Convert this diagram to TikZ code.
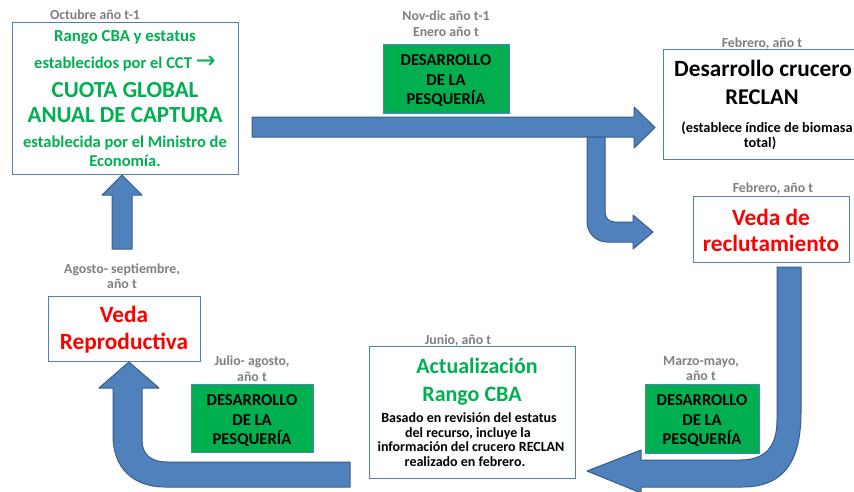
\documentclass[tikz,border=0pt]{standalone}
\usepackage{fontspec}
\setmainfont{Carlito}
\newfontfamily\symfont{DejaVu Sans}
\definecolor{arrowfill}{HTML}{4F81BD}
\definecolor{arrowline}{HTML}{385D8A}
\definecolor{boxline}{HTML}{4F81BD}
\definecolor{grn}{HTML}{00B050}
\definecolor{lblgray}{HTML}{7F7F7F}
\definecolor{vred}{HTML}{FF0000}
\newcommand\fsz[1]{\fontsize{#1}{#1}\selectfont\bfseries}
\tikzset{
 box/.style={draw=boxline, line width=1pt, fill=white, inner sep=0pt, anchor=north west},
 devbox/.style={box, fill=grn},
 blockarrow/.style={fill=arrowfill, draw=arrowline, line width=1pt, line join=round},
 txt/.style={anchor=base, inner sep=0pt},
 lbl/.style={txt, text=lblgray, font=\fsz{13.8}},
 gtxt/.style={txt, text=grn},
 rtxt/.style={txt, text=vred, font=\fsz{23.3}},
 btxt/.style={txt, text=black},
 devtxt/.style={txt, text=black, font=\fsz{16.6}},
}
\begin{document}
\begin{tikzpicture}[x=1pt,y=-1pt]
\useasboundingbox (0,0) rectangle (854,491);

% ---------- block arrows ----------
% A: top horizontal arrow
\draw[blockarrow] (252,117) -- (634,117) -- (634,107) -- (655,127.5) -- (634,148) -- (634,137) -- (252,137) -- cycle;
% B: bent arrow down then right
\draw[blockarrow] (587,137) -- (605,137) -- (605,212) .. controls (605,218) and (609,222) .. (615,222)
  -- (633,222) -- (633,215) -- (653,232) -- (633,249) -- (633,242) -- (607,242)
  .. controls (596,242) and (587,233) .. (587,222) -- cycle;
% C: right U-turn arrow
\draw[blockarrow] (777,267) -- (801,267) -- (801,412) .. controls (801,460) and (785,487) .. (742,487)
  -- (641,487) -- (641,493) -- (587,471) -- (641,450) -- (641,460) -- (740,460)
  .. controls (766,460) and (777,446) .. (777,420) -- cycle;
% D: bottom-left U-turn arrow
\draw[blockarrow] (350,462) -- (350,487) -- (165,487) .. controls (133,487) and (113,468) .. (113,435)
  -- (113,388) -- (99,388) -- (129,362) -- (159,388) -- (142,388) -- (142,440)
  .. controls (142,454) and (150,462) .. (168,462) -- cycle;
% E: up arrow
\draw[blockarrow] (112,249) -- (112,195) -- (102,195) -- (122,175) -- (142,195) -- (132,195) -- (132,249) -- cycle;

% ---------- boxes ----------
\node[box, minimum width=226, minimum height=152] (b1) at (12,22) {};
\node[box, minimum width=196, minimum height=110] (b2) at (663,49) {};
\node[box, minimum width=156, minimum height=66] (b3) at (693,196) {};
\node[box, minimum width=206, minimum height=132] (b4) at (369,346) {};
\node[box, minimum width=152, minimum height=65] (b5) at (48,296) {};
\node[devbox, minimum width=126, minimum height=69] (g1) at (383,44) {};
\node[devbox, minimum width=114, minimum height=69] (g2) at (645,384) {};
\node[devbox, minimum width=122, minimum height=68] (g3) at (191,384) {};

% ---------- box 1 text ----------
\node[gtxt, font=\fsz{16.8}] (b1l1) at (125,41.7) {Rango CBA y estatus};
\node[gtxt, font=\fsz{16.5}] (b1l2) at (125,68) {establecidos por el CCT {\symfont\fontsize{24}{24}\selectfont\mdseries →}};
\node[gtxt, font=\fsz{23}] (b1l3) at (125,97) {CUOTA GLOBAL};
\node[gtxt, font=\fsz{23}] (b1l4) at (125,122) {ANUAL DE CAPTURA};
\node[gtxt, font=\fsz{16.5}] (b1l5) at (125,147) {establecida por el Ministro de};
\node[gtxt, font=\fsz{16.5}] (b1l6) at (125,166) {Economía.};

% ---------- box 2 text ----------
\node[btxt, font=\fsz{23.3}] (b2l1) at (763,76) {Desarrollo crucero};
\node[btxt, font=\fsz{22.5}] (b2l2) at (762,104) {RECLAN};
\node[btxt, font=\fsz{14.3}] (b2l3) at (767,132) {(establece índice de biomasa};
\node[btxt, font=\fsz{14.3}] (b2l4) at (760,147) {total)};

% ---------- box 3 text ----------
\node[rtxt] (b3l1) at (771,225) {Veda de};
\node[rtxt] (b3l2) at (771,251) {reclutamiento};

% ---------- box 4 text ----------
\node[gtxt, font=\fsz{22}] (b4l1) at (477,373) {Actualización};
\node[gtxt, font=\fsz{22}] (b4l2) at (472,401) {Rango CBA};
\node[btxt, font=\fsz{14}] (b4l3) at (469,422) {Basado en revisión del estatus};
\node[btxt, font=\fsz{14}] (b4l4) at (468,437) {del recurso, incluye la};
\node[btxt, font=\fsz{14}] (b4l5) at (471,451) {información del crucero RECLAN};
\node[btxt, font=\fsz{14}] (b4l6) at (465,466) {realizado en febrero.};

% ---------- box 5 text ----------
\node[rtxt] (b5l1) at (124,322) {Veda};
\node[rtxt] (b5l2) at (124,349) {Reproductiva};

% ---------- green boxes text ----------
\node[devtxt] (g1l1) at (446,65) {DESARROLLO};
\node[devtxt] (g1l2) at (446,85) {DE LA};
\node[devtxt] (g1l3) at (446,104) {PESQUERÍA};
\node[devtxt] (g2l1) at (702,405) {DESARROLLO};
\node[devtxt] (g2l2) at (702,425) {DE LA};
\node[devtxt] (g2l3) at (702,444) {PESQUERÍA};
\node[devtxt] (g3l1) at (252,405) {DESARROLLO};
\node[devtxt] (g3l2) at (252,425) {DE LA};
\node[devtxt] (g3l3) at (252,444) {PESQUERÍA};

% ---------- gray time labels ----------
\node[lbl] (la1) at (95,19) {Octubre año t-1};
\node[lbl] (la2) at (446,20) {Nov-dic año t-1};
\node[lbl] (la3) at (446,36) {Enero año t};
\node[lbl] (la4) at (762,47.5) {Febrero, año t};
\node[lbl] (la5) at (773,192) {Febrero, año t};
\node[lbl] (la6) at (122,273) {Agosto- septiembre,};
\node[lbl] (la7) at (122,288) {año t};
\node[lbl] (la8) at (252,365) {Julio- agosto,};
\node[lbl] (la9) at (252,381) {año t};
\node[lbl] (la10) at (458,344) {Junio, año t};
\node[lbl] (la11) at (701,365) {Marzo-mayo,};
\node[lbl] (la12) at (701,380) {año t};
\end{tikzpicture}
\end{document}
